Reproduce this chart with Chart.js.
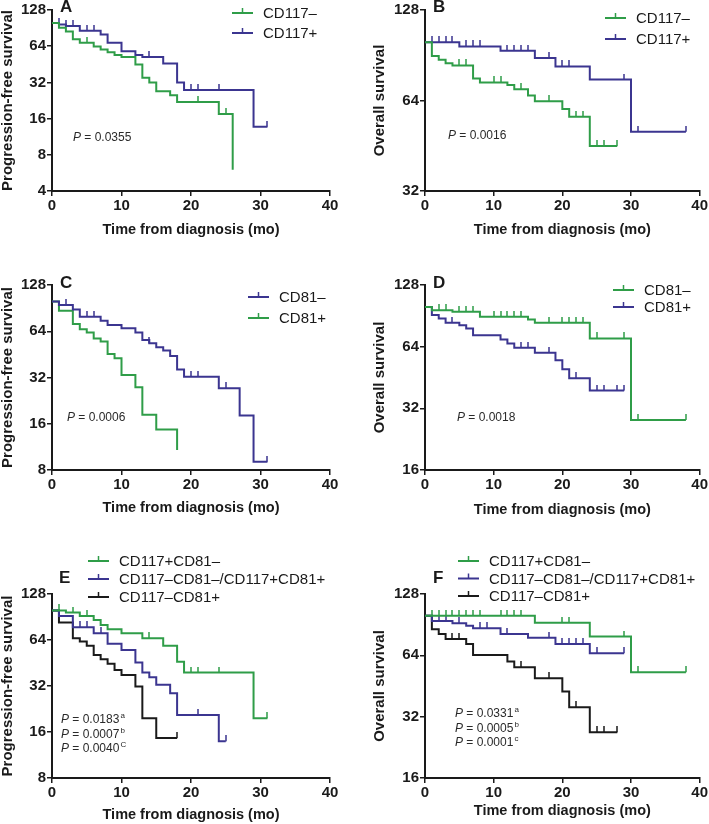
<!DOCTYPE html>
<html>
<head>
<meta charset="utf-8">
<script src="https://cdn.jsdelivr.net/npm/chart.js@4.4.1/dist/chart.umd.min.js"></script>
<style>
  body { margin: 0; background: #fff; }
  #wrap { position: relative; width: 709px; height: 824px; }
  canvas { position: absolute; }
</style>
</head>
<body>
<div id="wrap">
  <canvas id="panelA" width="354" height="270" style="left:0;top:0"></canvas>
  <canvas id="panelB" width="354" height="270" style="left:355px;top:0"></canvas>
  <canvas id="panelC" width="354" height="270" style="left:0;top:270px"></canvas>
  <canvas id="panelD" width="354" height="270" style="left:355px;top:270px"></canvas>
  <canvas id="panelE" width="354" height="284" style="left:0;top:540px"></canvas>
  <canvas id="panelF" width="354" height="284" style="left:355px;top:540px"></canvas>
</div>
<script>
const GREEN = '#2f9d48';
const BLUE = '#3b3590';
const BLACK = '#1a1a1a';
const FONT = "'Liberation Sans', Arial, sans-serif";

const xTicks = [0, 10, 20, 30, 40];

// A - progression-free survival by CD117
const aNegTime = [0, 1, 2, 3, 4, 6, 7, 8, 9, 10, 12, 13, 14, 15, 17, 18, 24, 26];
const aNegSurv = [100, 91, 85, 73, 68.5, 63.5, 60, 57, 54, 52, 45, 35, 32, 27, 25, 22, 17.5, 6];
const aNegCens = [5, 21, 25];
const aPosTime = [0, 1, 2, 4, 7, 8, 10, 12, 13, 16, 18, 19, 29, 31];
const aPosSurv = [100, 97, 94, 86, 80, 68.5, 58, 54, 52, 46, 32, 27.7, 13.7, 13.7];
const aPosCens = [1, 2, 3, 5, 6, 14, 20, 21, 24, 31];
const aTicks = [4, 8, 16, 32, 64, 128];

// B - overall survival by CD117
const bNegTime = [0, 1, 2, 3, 4, 7, 8, 12, 13, 15, 16, 20, 21, 24, 28];
const bNegSurv = [100, 90, 87.4, 85.2, 83.7, 75.8, 73.5, 72, 69.8, 66.5, 63.6, 60, 56.5, 45.2, 45.2];
const bNegCens = [5, 6, 10, 11, 14, 18, 22, 23, 25, 26, 28];
const bPosTime = [0, 5, 11, 16, 19, 24, 30, 38];
const bPosSurv = [100, 96.8, 93.7, 88.7, 83.1, 75.1, 50.4, 50.4];
const bPosCens = [1, 2, 3, 4, 6, 7, 8, 12, 13, 14, 15, 18, 20, 21, 29, 31, 38];
const bTicks = [32, 64, 128];

// C - progression-free survival by CD81
const cNegTime = [0, 1, 3, 4, 7, 8, 10, 12, 13, 14, 15, 16, 17, 18, 19, 24, 27, 29, 31];
const cNegSurv = [100, 94.9, 88.8, 79.6, 75, 70.3, 66.9, 62.7, 56.1, 53.4, 50.3, 47.9, 44.2, 36.1, 32.4, 27.2, 18.1, 9.06, 9.06];
const cNegCens = [2, 5, 6, 14, 20, 21, 25, 31];
const cPosTime = [0, 1, 3, 4, 5, 6, 7, 8, 9, 10, 12, 13, 15, 18];
const cPosSurv = [100, 87.1, 71.4, 65.9, 62.7, 57.5, 54.8, 45.5, 42.7, 33.2, 27.6, 18.3, 14.7, 10.8];
const cPosCens = [];
const cTicks = [8, 16, 32, 64, 128];

// D - overall survival by CD81
const dNegTime = [0, 1, 4, 8, 15, 16, 24, 30, 38];
const dNegSurv = [100, 96.5, 94.7, 89.5, 86.9, 83.7, 70.2, 28.1, 28.1];
const dNegCens = [2, 3, 5, 6, 7, 10, 11, 12, 13, 14, 18, 20, 21, 22, 23, 25, 29, 31, 38];
const dPosTime = [0, 1, 2, 3, 5, 6, 7, 11, 12, 13, 16, 19, 20, 21, 24, 29];
const dPosSurv = [100, 91.3, 87.9, 83.8, 81.5, 78.5, 72.8, 69.3, 66.3, 63.3, 59.7, 54.9, 49.6, 44.9, 39.1, 39.1];
const dPosCens = [4, 14, 15, 18, 22, 25, 26, 28, 29];
const dTicks = [16, 32, 64, 128];

// E - progression-free survival, combined groups
const eLowTime = [0, 2, 4, 6, 7, 8, 10, 13, 16, 18, 19, 29, 31];
const eLowSurv = [100, 96.7, 91.9, 86.6, 80.3, 75.3, 70.8, 65.7, 58.6, 46.2, 39.2, 19.7, 19.7];
const eLowCens = [1, 3, 5, 14, 20, 21, 24, 31];
const eMidTime = [0, 1, 3, 6, 8, 10, 12, 13, 14, 15, 17, 18, 24, 25];
const eMidSurv = [100, 91.9, 77.6, 70.8, 60.4, 55.1, 45.6, 39.2, 36.5, 32.6, 28.7, 20.7, 13.9, 13.9];
const eMidCens = [4, 5, 7, 21, 25];
const eHighTime = [0, 1, 3, 4, 5, 6, 7, 8, 9, 10, 12, 13, 15, 18];
const eHighSurv = [100, 83.2, 65.7, 62.5, 58.6, 51.1, 47.9, 44.7, 40.8, 37.8, 31.8, 19.7, 14.6, 14.6];
const eHighCens = [18];
const eTicks = [8, 16, 32, 64, 128];

// F - overall survival, combined groups
const fLowTime = [0, 16, 24, 30, 38];
const fLowSurv = [100, 92.6, 79.1, 52.9, 52.9];
const fLowCens = [1, 2, 3, 4, 5, 6, 7, 8, 11, 12, 13, 14, 20, 21, 29, 31, 38];
const fMidTime = [0, 1, 4, 6, 7, 11, 15, 19, 24, 29];
const fMidSurv = [100, 94.4, 91.9, 89.5, 86.8, 81.5, 78, 72.8, 65.6, 65.6];
const fMidCens = [2, 3, 5, 8, 9, 12, 18, 20, 21, 22, 23, 25, 29];
const fHighTime = [0, 1, 2, 3, 6, 7, 12, 13, 16, 20, 21, 24, 28];
const fHighSurv = [100, 85.9, 81.5, 77, 72.8, 64.3, 59.7, 55.9, 49.4, 42.5, 35.6, 26.8, 26.8];
const fHighCens = [4, 5, 14, 18, 22, 25, 26, 28];
const fTicks = [16, 32, 64, 128];

const labelsCD117 = ['CD117–', 'CD117+'];
const labelsCD81 = ['CD81–', 'CD81+'];
const labelsCombo = ['CD117+CD81–', 'CD117–CD81–/CD117+CD81+', 'CD117–CD81+'];

const pA = ['0.0355'];
const pB = ['0.0016'];
const pC = ['0.0006'];
const pD = ['0.0018'];
const pE = ['0.0183', '0.0007', '0.0040'];
const supE = ['a', 'b', 'C'];
const pF = ['0.0331', '0.0005', '0.0001'];
const supF = ['a', 'b', 'c'];

// survival value of the step curve at time t
function stepAt(time, surv, t) {
  let v = surv[0];
  for (let i = 0; i < time.length; i++) if (time[i] <= t) v = surv[i];
  return v;
}

// small upward tick used as censor mark
function tickMark(color) {
  const c = document.createElement('canvas');
  c.width = 2; c.height = 12;
  const g = c.getContext('2d');
  g.fillStyle = color;
  g.fillRect(0.25, 0, 1.5, 6);
  return c;
}

function curveSets(time, surv, cens, color) {
  return [{
    data: time.map((t, i) => ({ x: t, y: surv[i] })),
    borderColor: color, borderWidth: 2, stepped: true,
    pointRadius: 0, fill: false
  }, {
    data: cens.map(t => ({ x: t, y: stepAt(time, surv, t) })),
    showLine: false, pointStyle: tickMark(color), pointRadius: 3
  }];
}

const panelText = {
  id: 'panelText',
  afterDraw(chart, args, o) {
    const ctx = chart.ctx;
    ctx.save();
    ctx.textBaseline = 'middle';
    ctx.textAlign = 'left';
    ctx.fillStyle = '#1a1a1a';
    ctx.font = 'bold 17px ' + FONT;
    ctx.fillText(o.letter[0], o.letter[1], o.letter[2]);

    o.legend.labels.forEach((lab, i) => {
      const y = o.legend.y + i * o.legend.gap;
      const x = o.legend.x;
      ctx.strokeStyle = o.legend.colors[i];
      ctx.lineWidth = 2;
      ctx.beginPath(); ctx.moveTo(x, y); ctx.lineTo(x + 21, y); ctx.stroke();
      ctx.lineWidth = 1.5;
      ctx.beginPath(); ctx.moveTo(x + 10.5, y); ctx.lineTo(x + 10.5, y - 5); ctx.stroke();
      ctx.fillStyle = '#1a1a1a';
      ctx.font = '15px ' + FONT;
      ctx.fillText(lab, x + 31, y + 1);
    });

    ctx.fillStyle = '#2a2a2a';
    o.pvals.values.forEach((v, i) => {
      const y = o.pvals.y + i * o.pvals.gap;
      let x = o.pvals.x;
      ctx.font = 'italic 12px ' + FONT;
      ctx.fillText('P', x, y);
      x += ctx.measureText('P').width;
      ctx.font = '12px ' + FONT;
      const s = ' = ' + v;
      ctx.fillText(s, x, y);
      x += ctx.measureText(s).width;
      if (o.pvals.sup) {
        ctx.font = '8px ' + FONT;
        ctx.fillText(o.pvals.sup[i], x + 1, y - 4);
      }
    });
    ctx.restore();
  }
};

function makeChart(id, L, datasets, yTicks, yTitle, text) {
  return new Chart(document.getElementById(id), {
    type: 'line',
    data: { datasets },
    plugins: [panelText],
    options: {
      responsive: false,
      animation: false,
      layout: { padding: L.pad, autoPadding: false },
      plugins: { legend: { display: false }, tooltip: { enabled: false }, panelText: text },
      scales: {
        x: {
          type: 'linear', min: 0, max: 40,
          afterBuildTicks: s => { s.ticks = xTicks.map(v => ({ value: v })); },
          afterFit: s => { s.height = L.xH; },
          border: { color: BLACK, width: 2 },
          grid: { drawOnChartArea: false, drawTicks: true, tickLength: 5, color: BLACK, lineWidth: 1.5 },
          ticks: { color: BLACK, padding: 1, maxRotation: 0, font: { family: FONT, size: 15, weight: 'bold' } },
          title: {
            display: true, text: 'Time from diagnosis (mo)', color: BLACK,
            font: { family: FONT, size: 14.5, weight: 'bold', lineHeight: 1 },
            padding: { top: 0, bottom: L.xtPad }
          }
        },
        y: {
          type: 'logarithmic', min: yTicks[0], max: yTicks[yTicks.length - 1],
          afterBuildTicks: s => { s.ticks = yTicks.map(v => ({ value: v })); },
          afterFit: s => { s.width = L.yW; },
          border: { color: BLACK, width: 2 },
          grid: { drawOnChartArea: false, drawTicks: true, tickLength: 5, color: BLACK, lineWidth: 1.5 },
          ticks: { color: BLACK, padding: 1, autoSkip: false, callback: v => v, font: { family: FONT, size: 15, weight: 'bold' } },
          title: {
            display: true, text: yTitle, color: BLACK,
            font: { family: FONT, size: 15, weight: 'bold', lineHeight: 1 },
            padding: { top: L.ytPad, bottom: 0 }
          }
        }
      }
    }
  });
}

makeChart('panelA',
  { pad: { left: 0, top: 6, right: 24, bottom: 0 }, yW: 52, xH: 79, xtPad: 33, ytPad: 0 },
  [...curveSets(aNegTime, aNegSurv, aNegCens, GREEN), ...curveSets(aPosTime, aPosSurv, aPosCens, BLUE)],
  aTicks, 'Progression-free survival',
  { letter: ['A', 60, 7], legend: { labels: labelsCD117, colors: [GREEN, BLUE], x: 232, y: 13, gap: 20 },
    pvals: { values: pA, x: 73, y: 138, gap: 14 } });

makeChart('panelB',
  { pad: { left: 0, top: 5, right: 7, bottom: 0 }, yW: 70, xH: 79, xtPad: 33, ytPad: 17 },
  [...curveSets(bNegTime, bNegSurv, bNegCens, GREEN), ...curveSets(bPosTime, bPosSurv, bPosCens, BLUE)],
  bTicks, 'Overall survival',
  { letter: ['B', 78, 7], legend: { labels: labelsCD117, colors: [GREEN, BLUE], x: 250, y: 18, gap: 21 },
    pvals: { values: pB, x: 93, y: 136, gap: 14 } });

makeChart('panelC',
  { pad: { left: 0, top: 15, right: 24, bottom: 0 }, yW: 52, xH: 70, xtPad: 25, ytPad: 0 },
  [...curveSets(cNegTime, cNegSurv, cNegCens, BLUE), ...curveSets(cPosTime, cPosSurv, cPosCens, GREEN)],
  cTicks, 'Progression-free survival',
  { letter: ['C', 60, 13], legend: { labels: labelsCD81, colors: [BLUE, GREEN], x: 248, y: 27, gap: 21 },
    pvals: { values: pC, x: 67, y: 148, gap: 14 } });

makeChart('panelD',
  { pad: { left: 0, top: 15, right: 7, bottom: 0 }, yW: 70, xH: 70, xtPad: 23, ytPad: 17 },
  [...curveSets(dNegTime, dNegSurv, dNegCens, GREEN), ...curveSets(dPosTime, dPosSurv, dPosCens, BLUE)],
  dTicks, 'Overall survival',
  { letter: ['D', 78, 13], legend: { labels: labelsCD81, colors: [GREEN, BLUE], x: 258, y: 20, gap: 17 },
    pvals: { values: pD, x: 102, y: 148, gap: 14 } });

makeChart('panelE',
  { pad: { left: 0, top: 54, right: 24, bottom: 0 }, yW: 52, xH: 46, xtPad: 2, ytPad: 0 },
  [...curveSets(eLowTime, eLowSurv, eLowCens, GREEN), ...curveSets(eMidTime, eMidSurv, eMidCens, BLUE),
   ...curveSets(eHighTime, eHighSurv, eHighCens, BLACK)],
  eTicks, 'Progression-free survival',
  { letter: ['E', 59, 38], legend: { labels: labelsCombo, colors: [GREEN, BLUE, BLACK], x: 88, y: 21, gap: 18 },
    pvals: { values: pE, sup: supE, x: 61, y: 180, gap: 14.5 } });

makeChart('panelF',
  { pad: { left: 0, top: 54, right: 7, bottom: 0 }, yW: 70, xH: 46, xtPad: 6, ytPad: 17 },
  [...curveSets(fLowTime, fLowSurv, fLowCens, GREEN), ...curveSets(fMidTime, fMidSurv, fMidCens, BLUE),
   ...curveSets(fHighTime, fHighSurv, fHighCens, BLACK)],
  fTicks, 'Overall survival',
  { letter: ['F', 78, 38], legend: { labels: labelsCombo, colors: [GREEN, BLUE, BLACK], x: 103, y: 21, gap: 17.5 },
    pvals: { values: pF, sup: supF, x: 100, y: 174, gap: 14.5 } });
</script>
</body>
</html>
